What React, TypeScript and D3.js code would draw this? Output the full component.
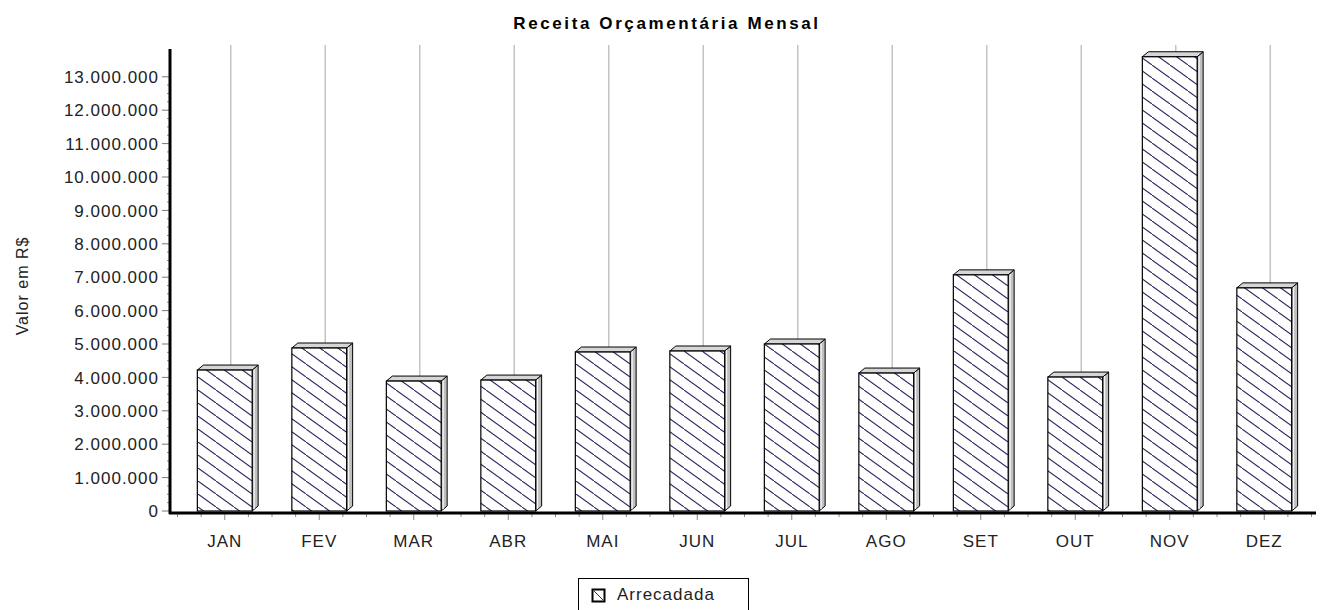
import React, { useEffect, useRef } from 'react';
import * as d3 from 'd3';

// monthly values (R$)
const months = ['JAN', 'FEV', 'MAR', 'ABR', 'MAI', 'JUN', 'JUL', 'AGO', 'SET', 'OUT', 'NOV', 'DEZ'];
const arrecadada = [4220000, 4880000, 3890000, 3920000, 4760000, 4790000, 5000000, 4130000, 7070000, 4010000, 13600000, 6680000];
const yTicks = [0, 1000000, 2000000, 3000000, 4000000, 5000000, 6000000, 7000000, 8000000, 9000000, 10000000, 11000000, 12000000, 13000000];

const title = 'Receita Orçamentária Mensal';
const yLabel = 'Valor em R$';
const legendLabel = 'Arrecadada';

const fmt = d3.formatLocale({ decimal: ',', thousands: '.', grouping: [3], currency: ['R$', ''] }).format(',d');

const W = 1322;
const H = 610;
const FONT = '"Liberation Sans", Arial, sans-serif';

function App() {
  const ref = useRef<SVGSVGElement>(null);

  useEffect(() => {
    const svg = d3.select(ref.current);
    svg.selectAll('*').remove();

    const depthX = 6;
    const depthY = 5;
    const axisX = 170;
    const baseY = 511;

    const x = d3.scaleBand<string>()
      .domain(months)
      .range([177.5, 1311.5])
      .paddingInner(0.42)
      .paddingOuter(0.21);

    const y = d3.scaleLinear()
      .domain([0, 14000000])
      .range([baseY, baseY - 14 * 33.4]);

    const defs = svg.append('defs');
    const pat = defs.append('pattern')
      .attr('id', 'hatch')
      .attr('patternUnits', 'userSpaceOnUse')
      .attr('width', 18)
      .attr('height', 13);
    pat.append('rect').attr('width', 18).attr('height', 13).attr('fill', '#fff');
    pat.append('line')
      .attr('x1', -2).attr('y1', -1.44).attr('x2', 20).attr('y2', 14.44)
      .attr('stroke', '#2b2b63').attr('stroke-width', 1.1);

    // vertical grid lines (back plane)
    svg.append('g')
      .selectAll('line')
      .data(months)
      .enter()
      .append('line')
      .attr('x1', (d) => x(d)! + x.bandwidth() / 2 + depthX)
      .attr('x2', (d) => x(d)! + x.bandwidth() / 2 + depthX)
      .attr('y1', 45)
      .attr('y2', baseY - depthY)
      .attr('stroke', '#c4c4c4')
      .attr('stroke-width', 1.5);

    // bars
    const bars = svg.append('g')
      .selectAll('g')
      .data(months)
      .enter()
      .append('g');

    const bx = (i: number) => x(months[i])!;
    const bw = x.bandwidth();
    const by = (i: number) => y(arrecadada[i]);

    // side face
    bars.append('path')
      .attr('d', (_d, i) => {
        const r = bx(i) + bw;
        return `M${r},${by(i)}L${r + depthX},${by(i) - depthY}L${r + depthX},${baseY - depthY}L${r},${baseY}Z`;
      })
      .attr('fill', '#bfbfbf')
      .attr('stroke', '#000')
      .attr('stroke-width', 1);
    bars.append('line')
      .attr('x1', (_d, i) => bx(i) + bw + 2)
      .attr('x2', (_d, i) => bx(i) + bw + 2)
      .attr('y1', (_d, i) => by(i) - 1)
      .attr('y2', baseY - 2)
      .attr('stroke', '#fff')
      .attr('stroke-width', 1);

    // top face
    bars.append('path')
      .attr('d', (_d, i) => {
        const l = bx(i);
        const t = by(i);
        return `M${l},${t}L${l + depthX},${t - depthY}L${l + bw + depthX},${t - depthY}L${l + bw},${t}Z`;
      })
      .attr('fill', '#d6d6d6')
      .attr('stroke', '#000')
      .attr('stroke-width', 1);

    // front face
    bars.append('rect')
      .attr('x', (_d, i) => bx(i))
      .attr('y', (_d, i) => by(i))
      .attr('width', bw)
      .attr('height', (_d, i) => baseY - by(i))
      .attr('fill', 'url(#hatch)')
      .attr('stroke', '#000')
      .attr('stroke-width', 1.2);

    // y axis
    const minor = d3.range(0, 13000001, 250000).filter((v) => v % 1000000 !== 0);
    svg.append('g')
      .selectAll('line')
      .data(minor)
      .enter()
      .append('line')
      .attr('x1', axisX - 3)
      .attr('x2', axisX)
      .attr('y1', (d) => y(d))
      .attr('y2', (d) => y(d))
      .attr('stroke', '#888');

    const yg = svg.append('g');
    yg.selectAll('line')
      .data(yTicks)
      .enter()
      .append('line')
      .attr('x1', axisX - 8)
      .attr('x2', axisX)
      .attr('y1', (d) => y(d))
      .attr('y2', (d) => y(d))
      .attr('stroke', '#777');
    yg.selectAll('text')
      .data(yTicks)
      .enter()
      .append('text')
      .attr('x', axisX - 11)
      .attr('y', (d) => y(d))
      .attr('dy', '0.36em')
      .attr('text-anchor', 'end')
      .attr('font-family', FONT)
      .attr('font-size', 17)
      .attr('letter-spacing', 1)
      .attr('fill', '#222')
      .text((d) => fmt(d));

    svg.append('line')
      .attr('x1', axisX).attr('x2', axisX)
      .attr('y1', 49).attr('y2', baseY + 3)
      .attr('stroke', '#000')
      .attr('stroke-width', 3);

    // x axis
    const step = x.step();
    const xMinor = d3.range(0, months.length * 4 + 1).map((k) => 177.5 + (k * step) / 4);
    svg.append('g')
      .selectAll('line')
      .data(xMinor)
      .enter()
      .append('line')
      .attr('x1', (d) => d)
      .attr('x2', (d) => d)
      .attr('y1', baseY + 3)
      .attr('y2', (_d, k) => (k % 4 === 2 ? baseY + 9 : baseY + 6))
      .attr('stroke', '#888');

    svg.append('line')
      .attr('x1', axisX - 1).attr('x2', 1316)
      .attr('y1', baseY + 2).attr('y2', baseY + 2)
      .attr('stroke', '#000')
      .attr('stroke-width', 3);

    svg.append('g')
      .selectAll('text')
      .data(months)
      .enter()
      .append('text')
      .attr('x', (d) => x(d)! + bw / 2)
      .attr('y', 547)
      .attr('text-anchor', 'middle')
      .attr('font-family', FONT)
      .attr('font-size', 17)
      .attr('letter-spacing', 1)
      .attr('fill', '#222')
      .text((d) => d);

    // title
    svg.append('text')
      .attr('x', 667)
      .attr('y', 29)
      .attr('text-anchor', 'middle')
      .attr('font-family', FONT)
      .attr('font-weight', 'bold')
      .attr('font-size', 17)
      .attr('letter-spacing', 2.6)
      .attr('fill', '#000')
      .text(title);

    // y label
    svg.append('text')
      .attr('transform', 'translate(28,286) rotate(-90)')
      .attr('text-anchor', 'middle')
      .attr('font-family', FONT)
      .attr('font-size', 16)
      .attr('letter-spacing', 1)
      .attr('fill', '#222')
      .text(yLabel);

    // legend
    const lg = svg.append('g');
    lg.append('rect')
      .attr('x', 578.5).attr('y', 578.5)
      .attr('width', 170).attr('height', 40)
      .attr('fill', '#fff')
      .attr('stroke', '#000');
    lg.append('rect')
      .attr('x', 592.5).attr('y', 589.5)
      .attr('width', 12).attr('height', 12)
      .attr('fill', '#fff')
      .attr('stroke', '#000')
      .attr('stroke-width', 2);
    lg.append('line')
      .attr('x1', 594).attr('y1', 591).attr('x2', 603).attr('y2', 600)
      .attr('stroke', '#2b2b63');
    lg.append('text')
      .attr('x', 617)
      .attr('y', 600)
      .attr('font-family', FONT)
      .attr('font-size', 17)
      .attr('letter-spacing', 1)
      .attr('fill', '#222')
      .text(legendLabel);
  }, []);

  return (
    <svg
      ref={ref}
      width={W}
      height={H}
      style={{ position: 'absolute', left: 0, top: 0, background: '#fff' }}
    />
  );
}

export default App;
